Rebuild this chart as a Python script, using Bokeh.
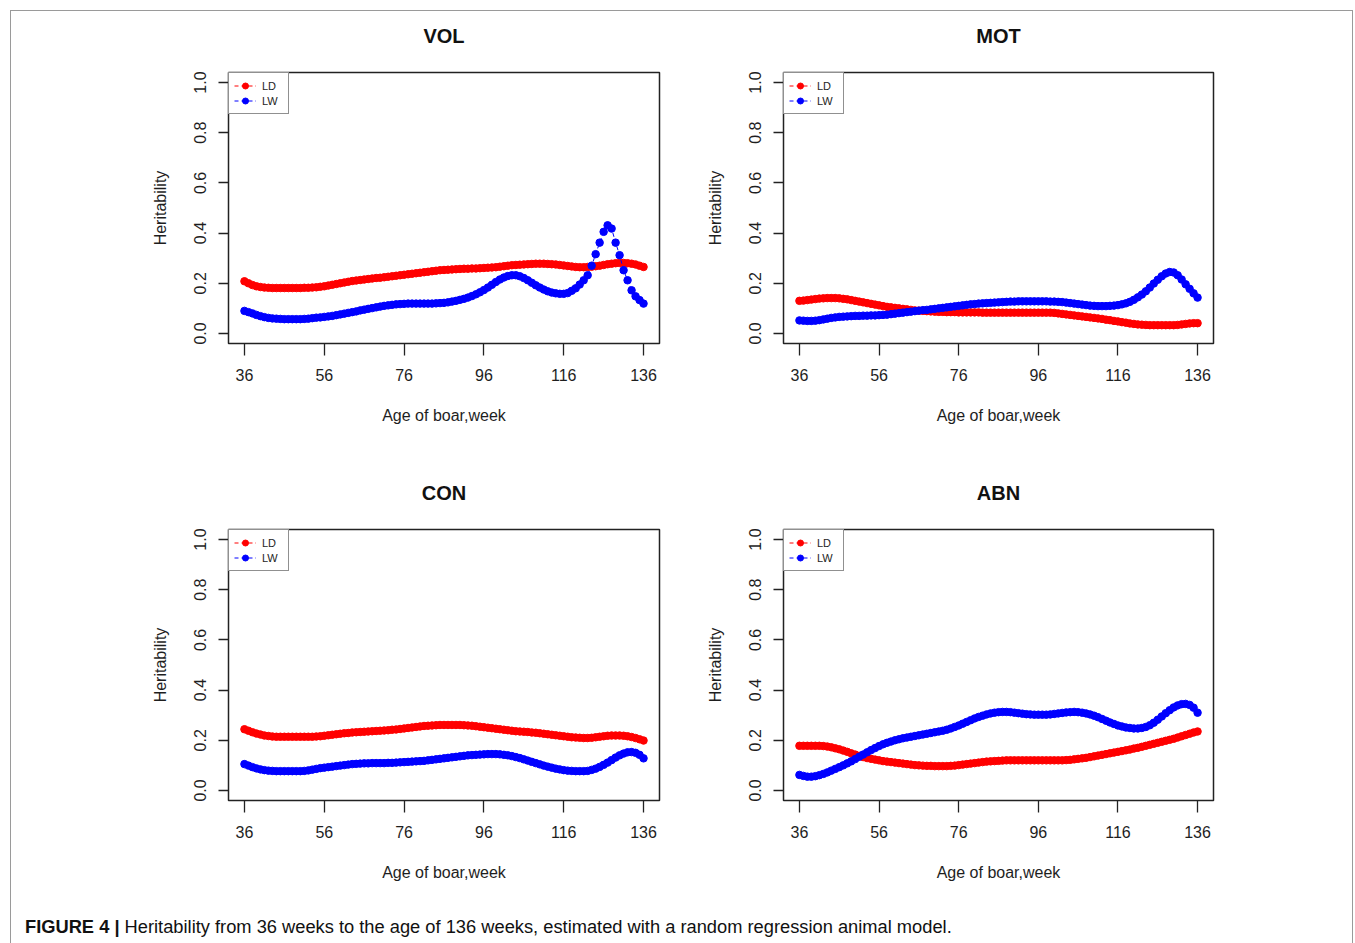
from bokeh.plotting import figure
from bokeh.models import FixedTicker, PrintfTickFormatter, Range1d, Legend, LegendItem, Div
from bokeh.layouts import row, column
from bokeh.embed import file_html
from bokeh.resources import INLINE

weeks = list(range(36, 137))
x_ticks = [36, 56, 76, 96, 116, 136]
y_ticks = [0.0, 0.2, 0.4, 0.6, 0.8, 1.0]
panel_titles = ["VOL", "MOT", "CON", "ABN"]
series_names = ["LD", "LW"]

VOL_LD = [0.208, 0.200, 0.193, 0.188, 0.185, 0.183, 0.182, 0.181, 0.181, 0.181,
          0.181, 0.181, 0.181, 0.181, 0.181, 0.182, 0.182, 0.183, 0.184, 0.186,
          0.188, 0.191, 0.194, 0.197, 0.200, 0.203, 0.206, 0.209, 0.211, 0.213,
          0.215, 0.217, 0.219, 0.221, 0.222, 0.224, 0.226, 0.228, 0.230, 0.232,
          0.234, 0.236, 0.238, 0.240, 0.242, 0.244, 0.246, 0.248, 0.250, 0.252,
          0.253, 0.254, 0.255, 0.256, 0.257, 0.258, 0.258, 0.259, 0.259, 0.260,
          0.261, 0.262, 0.263, 0.264, 0.266, 0.268, 0.270, 0.272, 0.273, 0.274,
          0.275, 0.276, 0.277, 0.278, 0.278, 0.278, 0.277, 0.276, 0.275, 0.273,
          0.271, 0.269, 0.267, 0.265, 0.264, 0.264, 0.265, 0.266, 0.268, 0.270,
          0.273, 0.276, 0.278, 0.280, 0.281, 0.281, 0.280, 0.278, 0.275, 0.270,
          0.265]
VOL_LW = [0.090, 0.085, 0.080, 0.074, 0.069, 0.065, 0.062, 0.060, 0.059, 0.058,
          0.057, 0.057, 0.057, 0.057, 0.057, 0.058, 0.059, 0.061, 0.063, 0.064,
          0.066, 0.068, 0.070, 0.073, 0.076, 0.079, 0.082, 0.085, 0.088, 0.092,
          0.095, 0.098, 0.101, 0.104, 0.107, 0.110, 0.112, 0.114, 0.116, 0.117,
          0.118, 0.119, 0.119, 0.119, 0.119, 0.119, 0.119, 0.119, 0.120, 0.121,
          0.122, 0.124, 0.127, 0.130, 0.134, 0.138, 0.143, 0.149, 0.156, 0.164,
          0.173, 0.183, 0.194, 0.205, 0.215, 0.223, 0.229, 0.232, 0.232, 0.228,
          0.221, 0.212, 0.202, 0.192, 0.183, 0.175, 0.168, 0.163, 0.160, 0.158,
          0.158, 0.161, 0.170, 0.180, 0.195, 0.212, 0.232, 0.270, 0.316, 0.362,
          0.405, 0.431, 0.418, 0.362, 0.312, 0.252, 0.212, 0.172, 0.148, 0.133,
          0.119]
MOT_LD = [0.130, 0.131, 0.133, 0.135, 0.137, 0.139, 0.140, 0.141, 0.141, 0.141,
          0.140, 0.138, 0.136, 0.133, 0.130, 0.127, 0.124, 0.121, 0.118, 0.115,
          0.112, 0.109, 0.106, 0.104, 0.102, 0.100, 0.098, 0.096, 0.094, 0.092,
          0.091, 0.090, 0.089, 0.088, 0.087, 0.086, 0.086, 0.085, 0.085, 0.085,
          0.084, 0.084, 0.084, 0.084, 0.084, 0.084, 0.083, 0.083, 0.083, 0.083,
          0.083, 0.083, 0.083, 0.083, 0.083, 0.083, 0.083, 0.083, 0.083, 0.083,
          0.083, 0.083, 0.083, 0.083, 0.082, 0.080, 0.078, 0.076, 0.074, 0.072,
          0.070, 0.068, 0.066, 0.064, 0.062, 0.060, 0.058, 0.055, 0.053, 0.050,
          0.048, 0.045, 0.043, 0.040, 0.038, 0.036, 0.035, 0.034, 0.033, 0.033,
          0.033, 0.033, 0.033, 0.033, 0.033, 0.034, 0.036, 0.038, 0.040, 0.041,
          0.041]
MOT_LW = [0.052, 0.051, 0.050, 0.050, 0.051, 0.053, 0.056, 0.059, 0.062, 0.064,
          0.066, 0.067, 0.068, 0.069, 0.070, 0.070, 0.071, 0.071, 0.072, 0.072,
          0.073, 0.074, 0.075, 0.077, 0.079, 0.081, 0.083, 0.085, 0.087, 0.089,
          0.091, 0.093, 0.094, 0.096, 0.098, 0.100, 0.102, 0.104, 0.106, 0.108,
          0.110, 0.112, 0.114, 0.116, 0.117, 0.119, 0.120, 0.121, 0.122, 0.123,
          0.124, 0.125, 0.126, 0.127, 0.127, 0.128, 0.128, 0.128, 0.128, 0.128,
          0.128, 0.128, 0.128, 0.127, 0.127, 0.126, 0.125, 0.123, 0.121, 0.119,
          0.117, 0.115, 0.113, 0.111, 0.110, 0.109, 0.109, 0.109, 0.110, 0.111,
          0.113, 0.116, 0.120, 0.126, 0.134, 0.144, 0.155, 0.168, 0.183, 0.199,
          0.214, 0.228, 0.239, 0.245, 0.243, 0.232, 0.215, 0.196, 0.178, 0.160,
          0.143]
CON_LD = [0.244, 0.238, 0.232, 0.227, 0.223, 0.219, 0.217, 0.215, 0.214, 0.214,
          0.214, 0.214, 0.214, 0.214, 0.214, 0.214, 0.214, 0.214, 0.215, 0.216,
          0.218, 0.220, 0.222, 0.224, 0.226, 0.228, 0.229, 0.231, 0.232, 0.233,
          0.234, 0.235, 0.236, 0.237, 0.238, 0.239, 0.240, 0.242, 0.243, 0.245,
          0.247, 0.249, 0.251, 0.253, 0.255, 0.257, 0.258, 0.259, 0.260, 0.261,
          0.261, 0.261, 0.261, 0.261, 0.261, 0.260, 0.259, 0.258, 0.256, 0.254,
          0.252, 0.250, 0.248, 0.246, 0.244, 0.242, 0.240, 0.238, 0.236, 0.235,
          0.234, 0.233, 0.231, 0.230, 0.228, 0.226, 0.224, 0.222, 0.220, 0.218,
          0.216, 0.214, 0.212, 0.211, 0.210, 0.209, 0.209, 0.210, 0.212, 0.214,
          0.216, 0.218, 0.219, 0.219, 0.219, 0.218, 0.216, 0.213, 0.209, 0.204,
          0.199]
CON_LW = [0.105, 0.099, 0.093, 0.088, 0.084, 0.081, 0.079, 0.078, 0.077, 0.077,
          0.077, 0.077, 0.077, 0.077, 0.077, 0.078, 0.080, 0.083, 0.086, 0.089,
          0.091, 0.093, 0.095, 0.097, 0.099, 0.101, 0.103, 0.105, 0.106, 0.107,
          0.108, 0.108, 0.109, 0.109, 0.109, 0.109, 0.110, 0.110, 0.111, 0.112,
          0.113, 0.114, 0.115, 0.116, 0.117, 0.118, 0.120, 0.122, 0.124, 0.126,
          0.128, 0.130, 0.132, 0.134, 0.136, 0.138, 0.140, 0.141, 0.142, 0.143,
          0.144, 0.145, 0.145, 0.145, 0.144, 0.142, 0.140, 0.137, 0.133, 0.129,
          0.124, 0.119, 0.114, 0.109, 0.104, 0.099, 0.095, 0.091, 0.087, 0.084,
          0.081, 0.079, 0.078, 0.077, 0.077, 0.077, 0.078, 0.082, 0.087, 0.094,
          0.102, 0.111, 0.121, 0.131, 0.140, 0.147, 0.152, 0.153, 0.150, 0.142,
          0.128]
ABN_LD = [0.178, 0.178, 0.178, 0.178, 0.178, 0.178, 0.177, 0.175, 0.172, 0.168,
          0.164, 0.159, 0.154, 0.148, 0.143, 0.138, 0.133, 0.129, 0.126, 0.123,
          0.120, 0.117, 0.115, 0.113, 0.111, 0.109, 0.107, 0.105, 0.103, 0.101,
          0.100, 0.099, 0.098, 0.098, 0.097, 0.097, 0.097, 0.097, 0.098, 0.099,
          0.101, 0.103, 0.105, 0.107, 0.109, 0.111, 0.113, 0.115, 0.116, 0.117,
          0.118, 0.119, 0.120, 0.120, 0.120, 0.120, 0.120, 0.120, 0.120, 0.120,
          0.120, 0.120, 0.120, 0.120, 0.120, 0.120, 0.120, 0.121, 0.122, 0.124,
          0.126, 0.128, 0.130, 0.133, 0.136, 0.139, 0.142, 0.145, 0.148, 0.151,
          0.154, 0.157, 0.160, 0.163, 0.167, 0.170, 0.174, 0.178, 0.182, 0.186,
          0.190, 0.194, 0.198, 0.202, 0.206, 0.211, 0.216, 0.221, 0.226, 0.231,
          0.235]
ABN_LW = [0.062, 0.058, 0.055, 0.055, 0.057, 0.061, 0.066, 0.072, 0.079, 0.086,
          0.093, 0.100, 0.108, 0.116, 0.125, 0.134, 0.143, 0.152, 0.161, 0.169,
          0.177, 0.184, 0.190, 0.195, 0.200, 0.204, 0.208, 0.211, 0.214, 0.217,
          0.220, 0.223, 0.226, 0.229, 0.232, 0.235, 0.238, 0.242, 0.247, 0.253,
          0.259, 0.266, 0.273, 0.280, 0.287, 0.293, 0.298, 0.303, 0.307, 0.310,
          0.312, 0.313, 0.313, 0.312, 0.310, 0.308, 0.306, 0.304, 0.303, 0.302,
          0.302, 0.302, 0.302, 0.303, 0.305, 0.307, 0.309, 0.311, 0.312, 0.313,
          0.312, 0.310, 0.307, 0.303, 0.298, 0.292, 0.285, 0.278, 0.271, 0.265,
          0.259, 0.255, 0.251, 0.249, 0.247, 0.247, 0.249, 0.253, 0.260, 0.270,
          0.282, 0.295, 0.308, 0.320, 0.331, 0.339, 0.344, 0.345, 0.341, 0.330,
          0.310]

FONT = "Liberation Sans"
TXT = "#1e1e1e"
RED = "#ff0000"
BLUE = "#0000ff"


def make_panel(title, ld, lw, left_border, right_border):
    p = figure(frame_width=431 if left_border > 150 else 430, frame_height=271,
               output_backend="svg", toolbar_location=None,
               x_range=Range1d(32, 140), y_range=Range1d(-0.04, 1.04),
               min_border_left=left_border, min_border_right=right_border,
               min_border_top=72, min_border_bottom=114,
               background_fill_color="white", border_fill_color="white")
    p.grid.visible = False
    p.outline_line_color = "#222222"
    p.outline_line_width = 1.5

    p.title.text = title
    p.title.align = "center"
    p.title.vertical_align = "top"
    p.title.text_font = FONT
    p.title.text_font_size = "20px"
    p.title.text_font_style = "bold"
    p.title.text_color = "#111111"
    p.title.standoff = 48

    for ax in (p.xaxis[0], p.yaxis[0]):
        ax.axis_line_color = None
        ax.major_tick_line_color = "#222222"
        ax.major_tick_line_width = 1.3
        ax.major_tick_in = 0
        ax.minor_tick_in = 0
        ax.minor_tick_out = 0
        ax.major_label_text_font = FONT
        ax.major_label_text_font_size = "16px"
        ax.major_label_text_color = TXT
        ax.axis_label_text_font = FONT
        ax.axis_label_text_font_size = "16px"
        ax.axis_label_text_font_style = "normal"
        ax.axis_label_text_color = TXT

    p.xaxis.ticker = FixedTicker(ticks=x_ticks)
    p.xaxis.major_tick_out = 12
    p.xaxis.major_label_standoff = 13
    p.xaxis.axis_label = "Age of boar,week"
    p.xaxis.axis_label_standoff = 23

    p.yaxis.ticker = FixedTicker(ticks=y_ticks)
    p.yaxis.formatter = PrintfTickFormatter(format="%.1f")
    p.yaxis.major_tick_out = 10
    p.yaxis.major_label_orientation = "vertical"
    p.yaxis.major_label_standoff = 12
    p.yaxis.axis_label = "Heritability"
    p.yaxis.axis_label_standoff = 23

    l1 = p.line(weeks, ld, line_color=RED, line_width=1, line_dash="4 3")
    s1 = p.scatter(weeks, ld, size=7.5, fill_color=RED, line_color=RED)
    l2 = p.line(weeks, lw, line_color=BLUE, line_width=1, line_dash="4 3")
    s2 = p.scatter(weeks, lw, size=7.5, fill_color=BLUE, line_color=BLUE)

    legend = Legend(items=[LegendItem(label=series_names[0], renderers=[l1, s1]),
                           LegendItem(label=series_names[1], renderers=[l2, s2])],
                    location="top_left", margin=0, padding=5, spacing=0,
                    glyph_width=22, glyph_height=15, label_height=15,
                    label_width=21, label_standoff=6,
                    label_text_font=FONT, label_text_font_size="11px",
                    label_text_color=TXT,
                    border_line_color="#222222", border_line_width=1.5,
                    background_fill_color="white", background_fill_alpha=1.0)
    p.add_layout(legend)
    return p


p1 = make_panel(panel_titles[0], VOL_LD, VOL_LW, 228, 24)
p2 = make_panel(panel_titles[1], MOT_LD, MOT_LW, 100, 142)
p3 = make_panel(panel_titles[2], CON_LD, CON_LW, 228, 24)
p4 = make_panel(panel_titles[3], ABN_LD, ABN_LW, 100, 142)

caption = Div(
    text='<span style="font-weight:bold">FIGURE 4 |</span> Heritability from 36 weeks '
         'to the age of 136 weeks, estimated with a random regression animal model.',
    width=1355, height=29, margin=(0, 0, 0, 0),
    styles={"font-family": "'Liberation Sans Narrow', 'Liberation Sans', sans-serif",
            "font-size": "18.3px", "padding-left": "25px", "padding-top": "0px",
            "color": "#111111", "white-space": "nowrap"})

frame_box = Div(text="", width=1343, height=940, margin=(0, 0, 0, 0),
                styles={"position": "absolute", "left": "10px", "top": "10px",
                        "border": "1px solid #9a9a9a", "pointer-events": "none",
                        "box-sizing": "border-box"})

layout = column(row(p1, p2), row(p3, p4), caption, frame_box)

with open("out.html", "w") as f:
    f.write(file_html(layout, INLINE))
